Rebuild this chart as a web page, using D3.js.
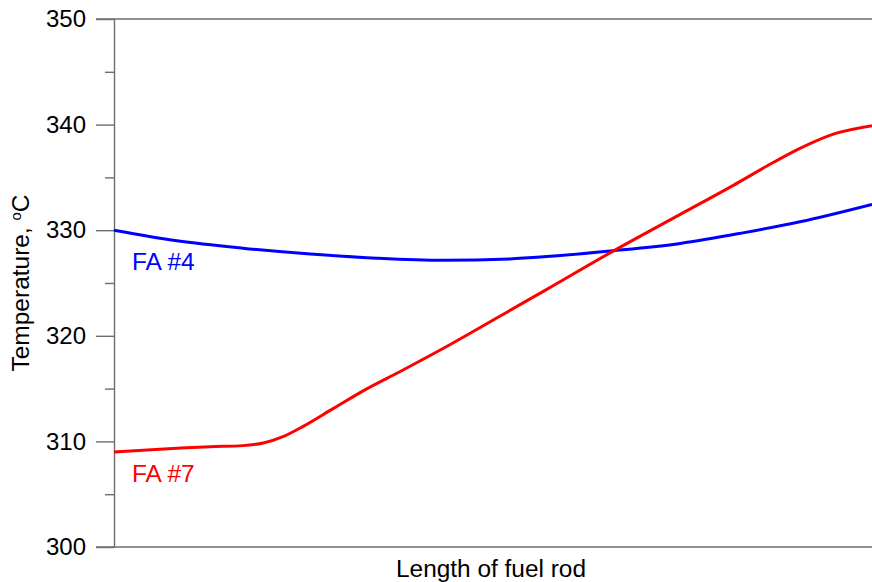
<!DOCTYPE html>
<html>
<head>
<meta charset="utf-8">
<script src="https://cdn.jsdelivr.net/npm/d3@7"></script>
<style>
  html, body { margin: 0; padding: 0; background: #fff; }
  svg { display: block; }
  text { font-family: "Liberation Sans", Arial, sans-serif; }
</style>
</head>
<body>
<div id="chart"></div>
<script>
// ---- Data (relative position along the fuel rod, 0..1; temperature in °C) ----
const fa4Pos  = [0, 0.083, 0.170, 0.259, 0.347, 0.434, 0.522, 0.571, 0.658, 0.747, 0.826, 0.905, 1.0];
const fa4Temp = [330.0, 329.0, 328.3, 327.75, 327.35, 327.15, 327.28, 327.5, 328.05, 328.75, 329.7, 330.8, 332.45];

const fa7Pos  = [0, 0.083, 0.127, 0.170, 0.197, 0.223, 0.249, 0.289, 0.334, 0.377, 0.443, 0.509, 0.571, 0.658, 0.747, 0.817, 0.862, 0.905, 0.949, 1.0];
const fa7Temp = [309.0, 309.35, 309.5, 309.6, 309.85, 310.45, 311.4, 313.1, 315.0, 316.6, 319.15, 321.85, 324.4, 328.0, 331.5, 334.25, 336.1, 337.75, 339.1, 339.9];

const majorTicks = [300, 310, 320, 330, 340, 350];
const minorTicks = [305, 315, 325, 335, 345];
const seriesNames = ["FA #4", "FA #7"];
const xTitle = "Length of fuel rod";
const yTitle = "Temperature, ";

// ---- Layout ----
const W = 872, H = 582;
const margin = { top: 19, right: 0, bottom: 35, left: 114 };
const iw = W - margin.left - margin.right;
const ih = H - margin.top - margin.bottom;
const axisColor = "#6e6e6e";

const svg = d3.select("#chart").append("svg").attr("width", W).attr("height", H);
const g = svg.append("g").attr("transform", `translate(${margin.left},${margin.top})`);

const x = d3.scaleLinear().domain([0, 1]).range([0, iw]);
const y = d3.scaleLinear().domain([300, 350]).range([ih, 0]);

// frame lines (top and bottom)
[350, 300].forEach(v => {
  g.append("line")
    .attr("x1", -18).attr("x2", iw)
    .attr("y1", y(v)).attr("y2", y(v))
    .attr("stroke", axisColor).attr("stroke-width", 1.4);
});

// minor ticks
const minorAxis = g.append("g")
  .call(d3.axisLeft(y).tickValues(minorTicks).tickSize(9).tickFormat(""));
minorAxis.select(".domain").remove();
minorAxis.selectAll("line").attr("stroke", axisColor).attr("stroke-width", 1.4);

// major axis
const yAxis = g.append("g")
  .call(d3.axisLeft(y).tickValues(majorTicks).tickSize(18).tickPadding(10).tickSizeOuter(0));
yAxis.select(".domain").attr("stroke", axisColor).attr("stroke-width", 1.4);
yAxis.selectAll(".tick line").attr("stroke", axisColor).attr("stroke-width", 1.4);
yAxis.selectAll(".tick text")
  .attr("fill", "#000")
  .style("font-size", "24px")
  .style("font-family", "'Liberation Sans', Arial, sans-serif");

// lines
const line = d3.line()
  .x(d => x(d[0]))
  .y(d => y(d[1]))
  .curve(d3.curveMonotoneX);

const fa4 = fa4Pos.map((p, i) => [p, fa4Temp[i]]);
const fa7 = fa7Pos.map((p, i) => [p, fa7Temp[i]]);

g.append("path").datum(fa4)
  .attr("d", line).attr("fill", "none")
  .attr("stroke", "#0000ff").attr("stroke-width", 3);

g.append("path").datum(fa7)
  .attr("d", line).attr("fill", "none")
  .attr("stroke", "#ff0000").attr("stroke-width", 3);

// series labels
g.append("text")
  .attr("x", x(0) + 18).attr("y", y(fa4Temp[0]) + 40)
  .attr("fill", "#0000ff").style("font-size", "24.5px")
  .text(seriesNames[0]);

g.append("text")
  .attr("x", x(0) + 18).attr("y", y(fa7Temp[0]) + 30)
  .attr("fill", "#ff0000").style("font-size", "24.5px")
  .text(seriesNames[1]);

// x title
svg.append("text")
  .attr("x", 491)
  .attr("y", 577)
  .attr("text-anchor", "middle")
  .style("font-size", "23px")
  .attr("textLength", 190)
  .attr("lengthAdjust", "spacingAndGlyphs")
  .text(xTitle);

// y title
const yt = svg.append("text")
  .attr("transform", `translate(29, 283) rotate(-90)`)
  .attr("text-anchor", "middle")
  .style("font-size", "23px")
  .attr("textLength", 177)
  .attr("lengthAdjust", "spacingAndGlyphs");
yt.append("tspan").text(yTitle);
yt.append("tspan").attr("baseline-shift", "super").style("font-size", "14px").text("o");
yt.append("tspan").text("C");
</script>
</body>
</html>
